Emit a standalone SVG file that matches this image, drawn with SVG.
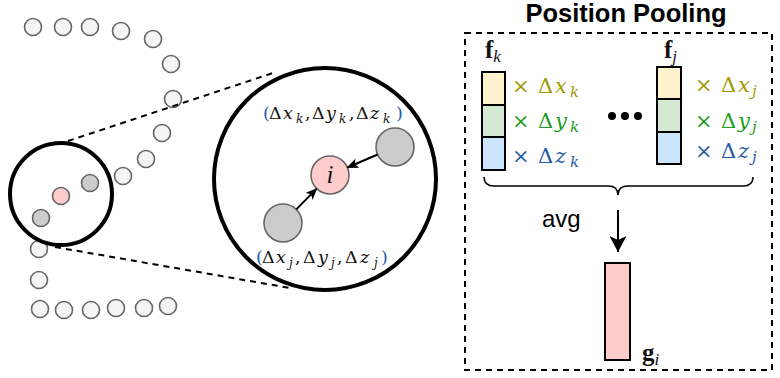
<svg xmlns="http://www.w3.org/2000/svg" width="780" height="378" viewBox="0 0 780 378">
<style>
.pt{fill:#f4f4f4;stroke:#666;stroke-width:1.6}
.ptg{fill:#cccccc;stroke:#666;stroke-width:1.6}
.ptp{fill:#ffcccc;stroke:#666;stroke-width:1.6}
.big{fill:none;stroke:#000;stroke-width:4}
.dash{fill:none;stroke:#000;stroke-width:2;stroke-dasharray:6,5}
.cell{stroke:#000;stroke-width:2}
.m{font-family:"Liberation Serif","DejaVu Serif",serif;fill:#111}
.d{font-family:"DejaVu Serif","Liberation Serif",serif;fill:#111}
.it{font-style:italic}
.bf{font-weight:bold}
.sans{font-family:"Liberation Sans",Arial,sans-serif}
.ol{fill:#a09a00}
.gr{fill:#1c9c1c}
.bl{fill:#1f5ca8}
.s{font-size:12px;font-style:italic}
.s2{font-size:15px;font-style:italic}
</style>
<defs>
<marker id="ah" viewBox="0 0 12 10" refX="11" refY="5" markerWidth="12" markerHeight="10" markerUnits="userSpaceOnUse" orient="auto">
<path d="M0,0 L12,5 L0,10 L3,5 z" fill="#000"/>
</marker>
<marker id="ah2" viewBox="0 0 16 17" refX="16" refY="8.5" markerWidth="16" markerHeight="17" markerUnits="userSpaceOnUse" orient="auto">
<path d="M0,0 L16,8.5 L0,17 L4,8.5 z" fill="#000"/>
</marker>
</defs>

<g id="point-cloud">
<circle class="pt" cx="33" cy="27" r="8.5"/>
<circle class="pt" cx="63" cy="27" r="8.5"/>
<circle class="pt" cx="90" cy="27" r="8.5"/>
<circle class="pt" cx="121" cy="31" r="8.5"/>
<circle class="pt" cx="153" cy="39" r="8.5"/>
<circle class="pt" cx="171" cy="64" r="8.5"/>
<circle class="pt" cx="173" cy="99" r="8.5"/>
<circle class="pt" cx="162" cy="133" r="8.5"/>
<circle class="pt" cx="146" cy="159" r="8.5"/>
<circle class="pt" cx="123" cy="176" r="8.5"/>
<circle class="pt" cx="39" cy="249" r="8.5"/>
<circle class="pt" cx="39" cy="280" r="8.5"/>
<circle class="pt" cx="40" cy="309" r="8.5"/>
<circle class="pt" cx="64" cy="310" r="8.5"/>
<circle class="pt" cx="91" cy="310" r="8.5"/>
<circle class="pt" cx="116" cy="308" r="8.5"/>
<circle class="pt" cx="144" cy="308" r="8.5"/>
<circle class="pt" cx="168" cy="306" r="8.5"/>
</g>

<g id="small-neighborhood">
<circle class="ptg" cx="90" cy="183" r="8.5"/>
<circle class="ptp" cx="61" cy="196" r="8.5"/>
<circle class="ptg" cx="41" cy="218" r="8.5"/>
<circle class="big" cx="61" cy="194" r="51"/>
</g>

<g id="zoom-lines">
<line class="dash" x1="68" y1="141" x2="276" y2="72"/>
<line class="dash" x1="55" y1="247" x2="290" y2="288"/>
</g>

<g id="zoom-circle">
<circle class="big" cx="325" cy="179" r="111"/>
</g>

<g id="node-k">
<circle class="ptg" cx="395" cy="147" r="19"/>
</g>
<g id="node-j">
<circle class="ptg" cx="283" cy="223" r="19"/>
</g>
<g id="node-i">
<circle class="ptp" cx="330" cy="175" r="19"/>
<text class="m it" x="330" y="183" font-size="25" text-anchor="middle">i</text>
</g>

<g id="connectors">
<line x1="377.6" y1="154.5" x2="347.4" y2="167.5" stroke="#000" stroke-width="2" marker-end="url(#ah)"/>
<line x1="296.3" y1="209.4" x2="316.7" y2="188.6" stroke="#000" stroke-width="2" marker-end="url(#ah)"/>
<path d="M484,177 Q484,186 494,186 L608,186 Q618,186 618,195 Q618,186 628,186 L743,186 Q753,186 753,177" fill="none" stroke="#000" stroke-width="1.6"/>
<line x1="618" y1="210" x2="618" y2="252" stroke="#000" stroke-width="2" marker-end="url(#ah2)"/>
</g>

<g id="label-k">
<text class="d" y="119" font-size="17.5"><tspan class="bl" x="263">(</tspan><tspan x="269">Δ</tspan><tspan class="it" x="283">x</tspan><tspan class="s" x="296" y="123">k</tspan><tspan x="305" y="119">,</tspan><tspan x="312">Δ</tspan><tspan class="it" x="326">y</tspan><tspan class="s" x="339" y="123">k</tspan><tspan x="349" y="119">,</tspan><tspan x="356">Δ</tspan><tspan class="it" x="370">z</tspan><tspan class="s" x="383" y="123">k</tspan><tspan class="bl" x="396" y="119">)</tspan></text>
</g>
<g id="label-j">
<text class="d" y="263" font-size="17.5"><tspan class="bl" x="256">(</tspan><tspan x="262">Δ</tspan><tspan class="it" x="276">x</tspan><tspan class="s" x="289" y="267">j</tspan><tspan x="295" y="263">,</tspan><tspan x="303">Δ</tspan><tspan class="it" x="318">y</tspan><tspan class="s" x="331" y="267">j</tspan><tspan x="337" y="263">,</tspan><tspan x="345">Δ</tspan><tspan class="it" x="360">z</tspan><tspan class="s" x="374" y="267">j</tspan><tspan class="bl" x="381" y="263">)</tspan></text>
</g>

<g id="position-pooling">
<text class="sans bf" x="626" y="22" font-size="25.5" text-anchor="middle" fill="#000">Position Pooling</text>
<rect class="dash" x="465" y="33" width="307" height="337"/>
</g>

<g id="vector-fk">
<text class="m bf" x="485" y="58" font-size="25">f<tspan class="it" font-weight="normal" font-size="17" dy="4">k</tspan></text>
<rect class="cell" x="482" y="72" width="23" height="33" fill="#fff2cc"/>
<rect class="cell" x="482" y="105" width="23" height="32" fill="#d5e8d4"/>
<rect class="cell" x="482" y="137" width="23" height="33" fill="#cce5ff"/>
<text class="d ol" y="93" font-size="21"><tspan x="512">×</tspan><tspan x="538">Δ</tspan><tspan class="it" x="555">x</tspan><tspan class="s2" x="570" y="97">k</tspan></text>
<text class="d gr" y="128" font-size="21"><tspan x="512">×</tspan><tspan x="538">Δ</tspan><tspan class="it" x="555">y</tspan><tspan class="s2" x="570" y="132">k</tspan></text>
<text class="d bl" y="163" font-size="21"><tspan x="512">×</tspan><tspan x="538">Δ</tspan><tspan class="it" x="555">z</tspan><tspan class="s2" x="570" y="167">k</tspan></text>
</g>

<g id="ellipsis">
<circle cx="612" cy="116" r="4" fill="#000"/>
<circle cx="625" cy="116" r="4" fill="#000"/>
<circle cx="638" cy="116" r="4" fill="#000"/>
</g>

<g id="vector-fj">
<text class="m bf" x="664" y="58" font-size="25">f<tspan class="it" font-weight="normal" font-size="17" dy="4">j</tspan></text>
<rect class="cell" x="657" y="67" width="24" height="32" fill="#fff2cc"/>
<rect class="cell" x="657" y="99" width="24" height="33" fill="#d5e8d4"/>
<rect class="cell" x="657" y="132" width="24" height="32" fill="#cce5ff"/>
<text class="d ol" y="92" font-size="21"><tspan x="695">×</tspan><tspan x="721">Δ</tspan><tspan class="it" x="738">x</tspan><tspan class="s2" x="752" y="96">j</tspan></text>
<text class="d gr" y="128" font-size="21"><tspan x="695">×</tspan><tspan x="721">Δ</tspan><tspan class="it" x="738">y</tspan><tspan class="s2" x="752" y="132">j</tspan></text>
<text class="d bl" y="158" font-size="21"><tspan x="695">×</tspan><tspan x="721">Δ</tspan><tspan class="it" x="738">z</tspan><tspan class="s2" x="752" y="162">j</tspan></text>
</g>

<g id="avg-label">
<text class="sans" x="542" y="227" font-size="24" fill="#000">avg</text>
</g>

<g id="vector-gi">
<rect class="cell" x="605" y="263" width="25" height="97" fill="#ffcccc"/>
<text class="m bf" x="642" y="361" font-size="25">g<tspan class="it" font-weight="normal" font-size="17" dy="4">i</tspan></text>
</g>
</svg>
